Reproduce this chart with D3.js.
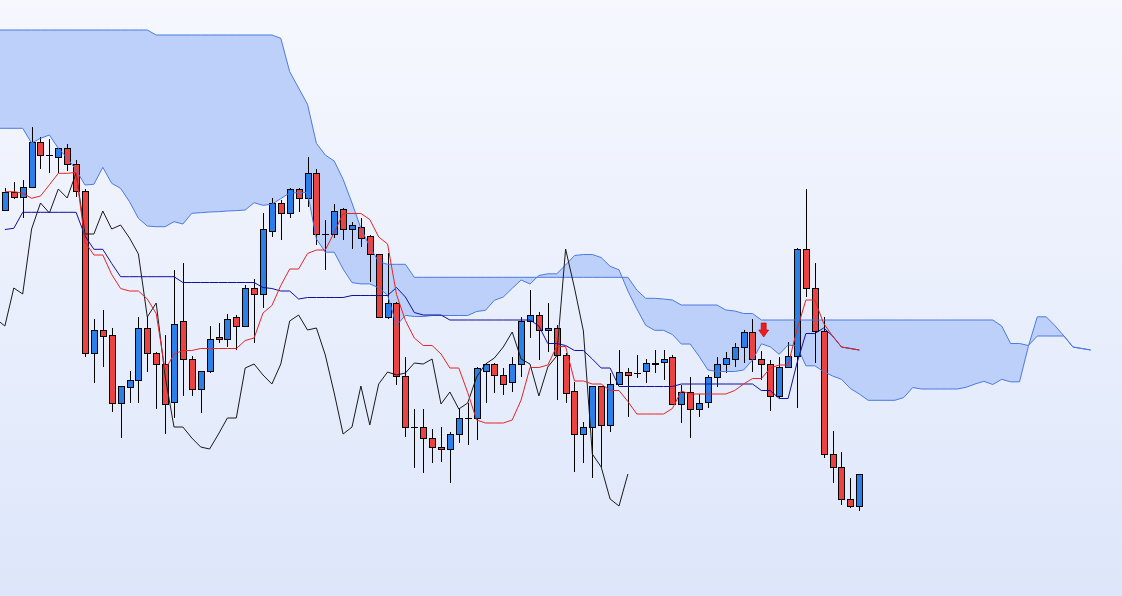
<!DOCTYPE html>
<html><head><meta charset="utf-8">
<script src="https://cdn.jsdelivr.net/npm/d3@7"></script>
<style>html,body{margin:0;padding:0;overflow:hidden;background:#eef2fd}</style>
</head><body>
<svg id="chart" width="1122" height="596"></svg>
<script>
// ---- data (price units) ----
const opens = [390,408,403,413,458,445,443,452,436,409,
 247,270,265,197,213,220,272,247,236,198,
 279,241,211,229,263,261,283,274,312,306,
 369,397,387,411,402,427,366,366,391,371,
 373,364,346,283,297,224,173,173,162,153,
 151,166,182,182,229,236,225,218,236,279,
 285,270,272,245,209,166,173,214,175,216,
 228,227,229,237,238,243,196,208,191,198,
 223,236,241,253,268,241,236,204,233,244,
 351,312,269,146,133,101,94];
const highs = [412,418,420,473,463,461,452,456,440,411,
 281,290,272,214,229,283,283,248,265,330,
 337,244,229,274,277,286,285,315,321,387,
 402,400,412,412,443,431,380,396,392,378,
 382,365,346,347,298,243,191,191,171,173,
 168,191,197,233,237,237,232,243,283,310,
 288,297,275,247,218,178,214,214,227,250,
 232,245,241,250,250,245,215,223,206,225,
 243,248,257,270,281,249,240,243,258,352,
 411,337,283,169,148,122,126];
const lows = [389,401,382,413,431,427,427,429,403,243,
 217,233,188,162,197,197,228,191,166,182,
 204,204,187,227,257,253,250,274,257,292,
 363,360,382,388,393,355,330,362,360,351,
 353,318,283,281,215,163,132,127,137,138,
 117,157,155,160,197,207,205,208,223,262,
 240,248,200,197,128,137,122,133,168,216,
 183,222,217,227,220,195,177,162,183,192,
 213,227,233,237,228,220,189,202,233,192,
 303,237,142,117,95,92,89];
const closes = [408,403,413,458,445,445,452,436,409,247,
 270,264,197,214,220,272,247,236,196,276,
 241,211,229,261,261,281,274,312,306,371,
 397,387,411,402,427,366,366,389,371,375,
 362,346,283,297,224,173,173,162,153,151,
 166,182,182,232,236,225,216,236,279,285,
 270,272,245,207,166,173,214,175,216,228,
 225,227,237,236,241,196,208,191,197,223,
 236,242,253,268,241,236,204,233,244,351,
 312,269,146,133,101,94,126];
const tenkan = [408.3,408.3,407,401.7,404,415.2,426.7,426.7,427.5,358,
 345,345,325.5,311.5,309,309,301,286.5,230,246,
 249.5,249.5,251.5,251.5,251.5,251.5,251.5,259.5,262,287,
 294.5,314.5,331,331,346.5,350,350,367.5,386.5,386.5,
 386.5,380.5,363,356,305.5,279.5,262,254.5,254.5,246,
 232,232,207.5,180,177,177,177,180,200,232.5,
 232.5,235,253.5,253.5,219,219,216,216,209.5,209.5,
 198.5,186,186,186,186,191.5,209,206,206,206,
 206,206,209.5,216,221.5,221.5,232,235,235,270.5,
 300,300,276.5,264,253,251.5,250];
const kijun = [370.5,371.7,387.7,387.7,387.7,387.7,387.7,387.7,387.7,364,
 350.7,350.7,336.5,323.3,323.3,323.3,323.3,323.3,323.3,323.3,
 317.5,317.5,317.5,317.5,317.5,317.5,317.5,317.5,317.5,312.5,
 311.5,309,309,301,302.5,302.5,302.5,302.5,302.5,304.5,
 304.5,304.5,304.5,304.5,312.5,303,287.5,285,285,285,
 280,280,280,280,280,280,280,280,280,280,
 274,256.5,256.5,254.5,249.5,249.5,241,232,232,213.5,
 213.5,213.5,213.5,213.5,213.5,213.5,216,216,216,216,
 216,216,216,216,216,209.5,209.5,201.5,201.5,237,
 266.5,266.5,272,264,253,251.5,250];
// senkou spans, first value at bar index -1, last at 122 (26 bars ahead)
const spanStart = -1;
const spanA = [471.7,471.7,471.7,471.7,
 457,461.7,465,451.7,442,430,415,415.7,432.7,416.7,
 411.7,398.3,381.7,374,373.3,373.3,378.3,376,386.7,387.3,
 388,388.3,389,389.4,390,397.3,394.7,395.8,401.4,407.2,
 407.2,407.6,361,347.8,347.8,331,317.4,316.1,316.1,312.1,
 304.9,274.6,284.6,283.5,283.5,284.5,284.5,284.5,284.5,284.5,
 288.5,289.7,299.7,303,311.7,320,316,324.5,326.2,326.2,
 335,344.5,345.5,345.5,342.5,333.7,330.2,309,291.2,274.7,
 269.7,269.7,265.5,256,256,243.7,230,228.5,228.5,228.5,
 230,240,256.2,253.2,245.7,255,254,234.2,234.2,228.5,
 224,220.7,211.5,206,199.7,199.7,199.7,199.7,202.5,212.5,
 211,211,211,211,211,212.7,216,218.7,215.5,220.7,
 218.2,218.2,253.7,283.2,283.2,274.2,264,253,251.5,250];
const spanB = [570,570,570,570,570,570,570,570,570,570,570,570,570,570,570,570,570,570,
 565,565,565,565,565,565,565,565,565,565,565,565,565,565,
 561.7,528.3,512,495.7,456.7,445,439,420.7,397,371.7,353.3,338.3,
 335.7,335.7,335.7,
 322.7,322.7,322.7,322.7,322.7,322.7,322.7,322.7,322.7,322.7,322.7,322.7,322.7,
 322.7,322.7,322.7,322.7,322.7,322.7,322.7,322.7,322.7,322.7,322.7,322.7,
 310,301.7,301.7,301,300,295,
 295,295,295,295,
 290,289,286.5,286.5,
 280,280,280,280,280,280,280,280,280,280,280,280,280,280,280,280,280,280,280,280,280,280,280,280,280,280,280,
 274,256.5,256.5,254.5,
 264,264,264,264,
 253,251.5,250];
const chikouShift = 26;
const signals = [{index: 85, price: 263, type: "sell"}];

// ---- drawing ----
const W = 1122, H = 596;
const svg = d3.select("#chart");
const defs = svg.append("defs");
const grad = defs.append("linearGradient").attr("id","bg").attr("x1",0).attr("y1",0).attr("x2",0).attr("y2",1);
grad.append("stop").attr("offset","0%").attr("stop-color","#f6f8fe");
grad.append("stop").attr("offset","100%").attr("stop-color","#dde6fa");
svg.append("rect").attr("width",W).attr("height",H).attr("fill","url(#bg)");

const x = d3.scaleLinear().domain([0, 96]).range([4.9, 859.3]);
const y = d3.scaleLinear().domain([4, 600]).range([596, 0]);

// cloud
const cloud = spanA.map((a,k) => ({i: k + spanStart, a: a, b: spanB[k]}));
svg.append("path").datum(cloud)
  .attr("d", d3.area().x(d => x(d.i)).y0(d => y(d.a)).y1(d => y(d.b)))
  .attr("fill", "#bdd0fa");

// candles
const bars = d3.range(opens.length).map(i => ({i, o: opens[i], h: highs[i], l: lows[i], c: closes[i]}));
const g = svg.append("g");
bars.forEach(d => {
  const x0 = Math.round(x(d.i)) - 3;
  g.append("line")
    .attr("x1", x0 + 3.5).attr("x2", x0 + 3.5)
    .attr("y1", Math.round(y(d.h))).attr("y2", Math.round(y(d.l)))
    .attr("stroke", "#000").attr("stroke-width", 1);
  if (d.o === d.c) {
    const yy = Math.round(y(d.o)) + 0.5;
    g.append("line").attr("x1", x0).attr("x2", x0 + 7).attr("y1", yy).attr("y2", yy)
      .attr("stroke", "#000").attr("stroke-width", 1);
  } else {
    const top = Math.round(y(Math.max(d.o, d.c)));
    const bot = Math.round(y(Math.min(d.o, d.c)));
    g.append("rect")
      .attr("x", x0 + 0.5).attr("y", top + 0.5)
      .attr("width", 6).attr("height", Math.max(1, bot - top))
      .attr("fill", d.c > d.o ? "#2a7fe8" : "#ec4242")
      .attr("stroke", "#000").attr("stroke-width", 1);
  }
});

// cloud borders
const lineIdx = d3.line().x(d => x(d.i)).y(d => y(d.v));
svg.append("path").datum(spanA.map((v,k) => ({i: k + spanStart, v})))
  .attr("d", lineIdx).attr("fill","none").attr("stroke","#4d79e0").attr("stroke-width",1);
svg.append("path").datum(spanB.map((v,k) => ({i: k + spanStart, v})))
  .attr("d", lineIdx).attr("fill","none").attr("stroke","#4d79e0").attr("stroke-width",1);

// chikou (close shifted back)
const chikou = closes.map((v,k) => ({i: k - chikouShift, v})).filter(d => d.i >= -1);
svg.append("path").datum(chikou).attr("d", lineIdx)
  .attr("fill","none").attr("stroke","#1a1a1a").attr("stroke-width",1);

// kijun
svg.append("path").datum(kijun.map((v,i) => ({i, v}))).attr("d", lineIdx)
  .attr("fill","none").attr("stroke","#1010a0").attr("stroke-width",1);
// tenkan
svg.append("path").datum(tenkan.map((v,i) => ({i, v}))).attr("d", lineIdx)
  .attr("fill","none").attr("stroke","#e82424").attr("stroke-width",1);

// signal arrow
signals.forEach(s => {
  const cx = x(s.index) + 2.3, ty = y(s.price);
  const p = d3.path();
  p.moveTo(cx - 2.5, ty - 14); p.lineTo(cx + 2.5, ty - 14); p.lineTo(cx + 2.5, ty - 7);
  p.lineTo(cx + 5, ty - 7); p.lineTo(cx, ty); p.lineTo(cx - 5, ty - 7);
  p.lineTo(cx - 2.5, ty - 7); p.closePath();
  svg.append("path").attr("d", p.toString()).attr("fill", "#ee1c1c")
    .attr("stroke", "#b00000").attr("stroke-width", 0.6);
});
</script>
</body></html>
